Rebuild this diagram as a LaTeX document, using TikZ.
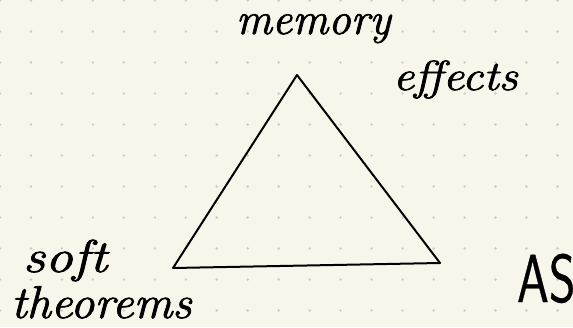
\documentclass[tikz,border=0pt]{standalone}
\usepackage{graphicx}
\usepackage{fontspec}
\newfontfamily\handit[FakeBold=1.6]{Latin Modern Roman}
\newfontfamily\handsf[FakeBold=0.6]{Latin Modern Sans}
\definecolor{paper}{HTML}{F8F6EB}
\definecolor{dotgrey}{HTML}{CACAC2}
\tikzset{
  hand/.style={inner sep=0pt, outer sep=0pt, anchor=base west, text=black},
  edge/.style={draw=black, line width=2pt, line join=round, line cap=round},
}
\begin{document}
\begin{tikzpicture}[x=1pt,y=-1pt]
  \useasboundingbox (0,0) rectangle (573,327);
  \clip (0,0) rectangle (573,327);
  \fill[paper] (0,0) rectangle (573,327);
  \foreach \i in {0,...,18} {
    \foreach \j in {0,...,10} {
      \fill[dotgrey] (30.97*\i,31*\j+0.5) circle (1.3);
    }
  }
  % triangle
  \coordinate (apex) at (297,75);
  \coordinate (bl) at (173,268);
  \coordinate (br) at (440,263);
  \draw[edge] (apex) -- (br) -- (bl) -- cycle;
  % labels
  \node[hand, font=\fontsize{45}{45}\selectfont\handit\itshape] (mem) at (236,34) {\scalebox{1.0}[1]{memory}};
  \node[hand, font=\fontsize{42}{42}\selectfont\handit\itshape] (eff) at (393,90) {\scalebox{1.13}[1]{effects}};
  \node[hand, font=\fontsize{46}{46}\selectfont\handit\itshape] (soft) at (23,272) {\scalebox{1.2}[1]{soft}};
  \node[hand, font=\fontsize{46}{46}\selectfont\handit\itshape] (thm) at (11,318) {\scalebox{1.05}[1]{theorems}};
  \node[hand, font=\fontsize{68}{68}\selectfont\handsf] (as) at (517,302) {\scalebox{0.75}[1]{AS}};
\end{tikzpicture}
\end{document}
